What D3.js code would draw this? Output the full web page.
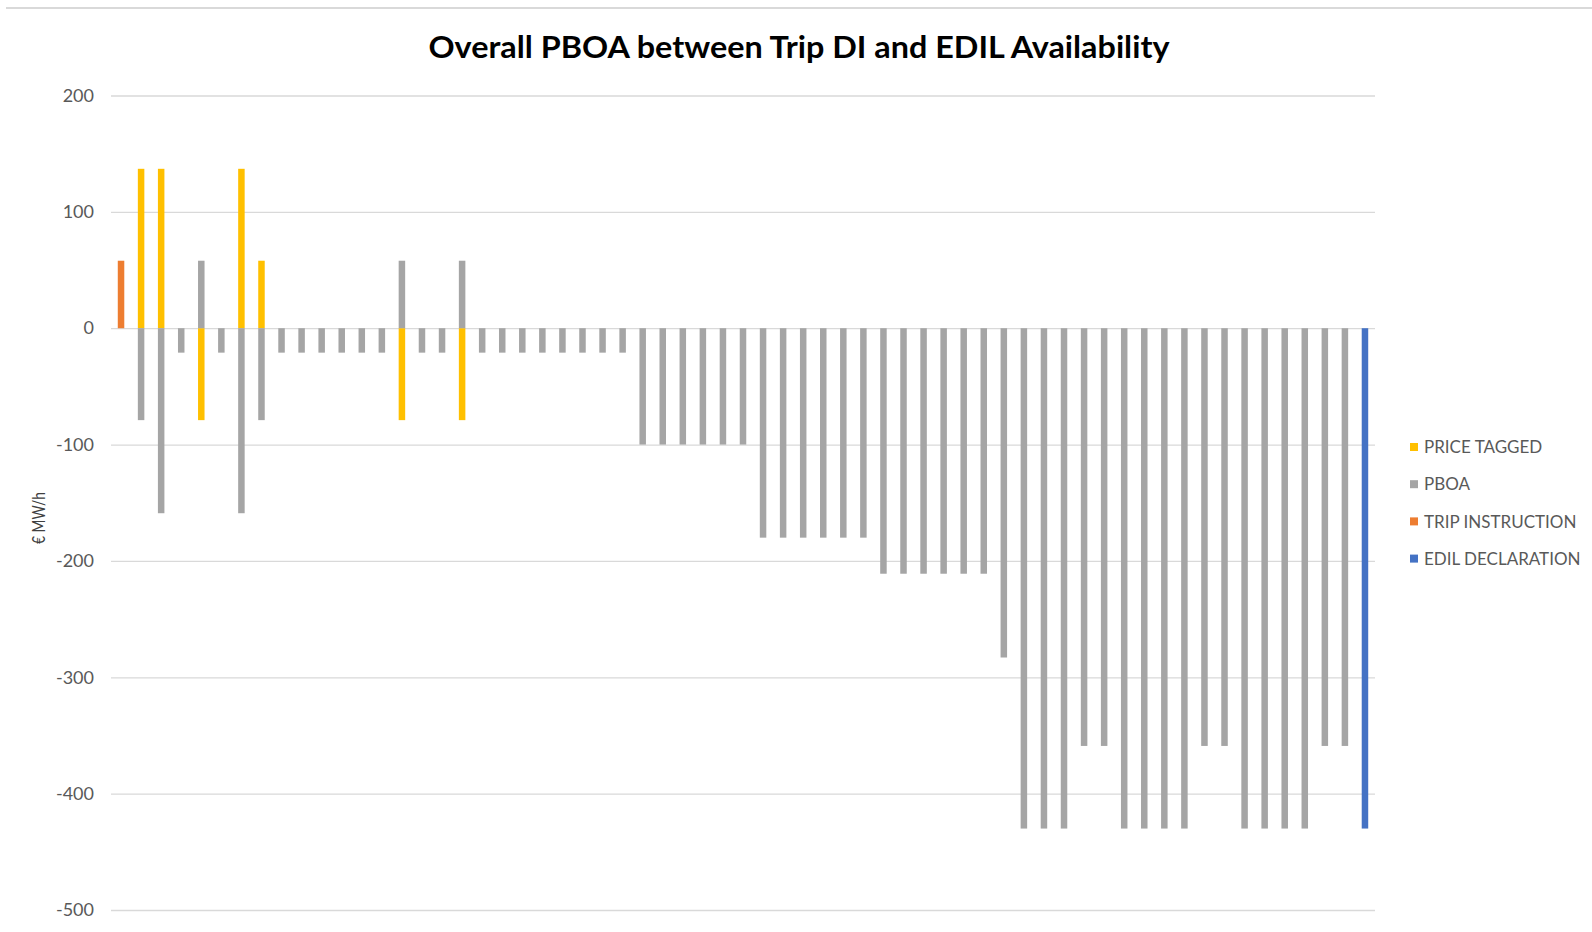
<!DOCTYPE html>
<html>
<head>
<meta charset="utf-8">
<script src="https://cdn.jsdelivr.net/npm/d3@7"></script>
<style>
  html, body { margin: 0; padding: 0; background: #fff; }
  svg { display: block; }
</style>
</head>
<body>
<svg id="chart" width="1592" height="932"></svg>
<script>
// Category index (one column per interval)
const categories = d3.range(1, 64).map(String);

// Series values, €/MWh (0 = no bar in that column)
const priceTagged = [
  0, 137, 137, 0, -79, 0, 137, 58, 0, 0, 0, 0, 0, 0, -79, 0, 0, -79, 0, 0,
  0, 0, 0, 0, 0, 0, 0, 0, 0, 0, 0, 0, 0, 0, 0, 0, 0, 0, 0, 0,
  0, 0, 0, 0, 0, 0, 0, 0, 0, 0, 0, 0, 0, 0, 0, 0, 0, 0, 0, 0,
  0, 0, 0
];
const pboa = [
  0, -79, -159, -21, 58, -21, -159, -79, -21, -21, -21, -21, -21, -21, 58, -21, -21, 58, -21, -21,
  -21, -21, -21, -21, -21, -21, -100, -100, -100, -100, -100, -100, -180, -180, -180, -180, -180, -180, -211, -211,
  -211, -211, -211, -211, -283, -430, -430, -430, -359, -359, -430, -430, -430, -430, -359, -359, -430, -430, -430, -430,
  -359, -359, 0
];
const tripInstruction = [58].concat(new Array(62).fill(0));
const edilDeclaration = new Array(62).fill(0).concat([-430]);

const seriesNames = ["PRICE TAGGED", "PBOA", "TRIP INSTRUCTION", "EDIL DECLARATION"];
const seriesColors = ["#FFC000", "#A5A5A5", "#ED7D31", "#4472C4"];
const yTicks = [200, 100, 0, -100, -200, -300, -400, -500];

const chartTitle = "Overall PBOA between Trip DI and EDIL Availability";
const yAxisTitle = "€ MW/h";

// Build rows for the stack layout from the arrays above
const seriesArrays = [priceTagged, pboa, tripInstruction, edilDeclaration];
const rows = categories.map((c, i) => {
  const r = { cat: c };
  seriesNames.forEach((s, k) => { r[s] = seriesArrays[k][i]; });
  return r;
});

const svg = d3.select("#chart");
const W = 1592;
const plot = { left: 111, right: 1375, top: 95.5, bottom: 910 };

const x = d3.scaleBand()
  .domain(categories)
  .range([plot.left, plot.right])
  .paddingInner(0.676)
  .paddingOuter(0.338);

const y = d3.scaleLinear()
  .domain([-500, 200])
  .range([plot.bottom, plot.top]);

const color = d3.scaleOrdinal().domain(seriesNames).range(seriesColors);

// Top border of the chart area
svg.append("line")
  .attr("x1", 6).attr("x2", W)
  .attr("y1", 8).attr("y2", 8)
  .attr("stroke", "#d9d9d9").attr("stroke-width", 2);

// Title
svg.append("text")
  .attr("x", 799).attr("y", 58)
  .attr("text-anchor", "middle")
  .attr("font-family", "Lato, 'Open Sans', sans-serif")
  .attr("font-weight", 700)
  .attr("font-size", 30)
  .attr("fill", "#000")
  .attr("textLength", 741)
  .attr("lengthAdjust", "spacingAndGlyphs")
  .text(chartTitle);

// Y axis with gridlines (plain hyphen for negatives)
const yAxis = d3.axisLeft(y)
  .tickValues(yTicks)
  .tickSize(-(plot.right - plot.left))
  .tickPadding(17)
  .tickFormat(d => String(d));

const gy = svg.append("g")
  .attr("transform", `translate(${plot.left},0)`)
  .call(yAxis);
gy.select(".domain").remove();
gy.selectAll(".tick line").attr("stroke", "#d9d9d9").attr("stroke-width", 1.3);
gy.selectAll(".tick text")
  .attr("font-family", "Lato, 'Open Sans', sans-serif")
  .attr("font-size", 18)
  .attr("fill", "#595959");

// Y axis title
svg.append("text")
  .attr("transform", "translate(45,518) rotate(-90)")
  .attr("text-anchor", "middle")
  .attr("font-family", "Lato, 'Open Sans', sans-serif")
  .attr("font-size", 17)
  .attr("fill", "#404040")
  .attr("textLength", 52)
  .attr("lengthAdjust", "spacingAndGlyphs")
  .text(yAxisTitle);

// Stacked columns (positive and negative stacked separately)
const stacked = d3.stack()
  .keys(seriesNames)
  .offset(d3.stackOffsetDiverging)(rows);

svg.append("g")
  .selectAll("g")
  .data(stacked)
  .join("g")
  .attr("fill", d => color(d.key))
  .selectAll("rect")
  .data(d => d.filter(p => p[1] !== p[0]))
  .join("rect")
  .attr("x", d => x(d.data.cat))
  .attr("width", x.bandwidth())
  .attr("y", d => y(Math.max(d[0], d[1])))
  .attr("height", d => Math.abs(y(d[0]) - y(d[1])));

// Legend
const legend = svg.append("g").attr("transform", "translate(1410,447)");
const li = legend.selectAll("g")
  .data(seriesNames)
  .join("g")
  .attr("transform", (d, i) => `translate(0,${i * 37.2})`);
li.append("rect")
  .attr("x", 0).attr("y", -4)
  .attr("width", 8).attr("height", 8)
  .attr("fill", d => color(d));
li.append("text")
  .attr("x", 14).attr("y", 0)
  .attr("dy", "0.36em")
  .attr("font-family", "Lato, 'Open Sans', sans-serif")
  .attr("font-size", 17)
  .attr("fill", "#595959")
  .text(d => d);
</script>
</body>
</html>
